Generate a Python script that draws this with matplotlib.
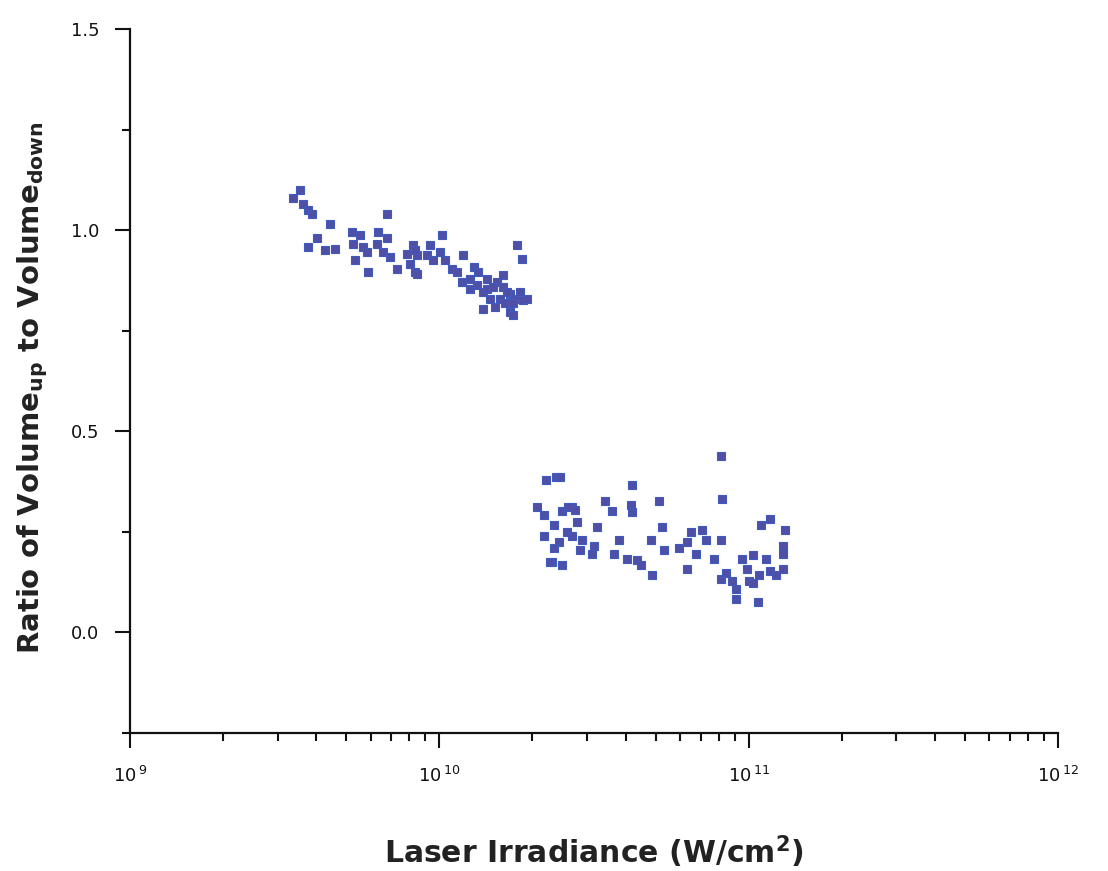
import numpy as np
import matplotlib
matplotlib.use("Agg")
import matplotlib.pyplot as plt
from matplotlib.ticker import LogLocator, MultipleLocator, FixedLocator

# ---- data: low-irradiance group (x in units of 1e9 W/cm^2) ----
x_low_e9 = [3.55, 3.37, 3.62, 3.76, 3.88, 6.78, 4.43, 4.03, 3.76, 4.27, 4.60,
            5.22, 5.54, 5.26, 5.66, 5.34, 5.84, 5.88, 6.34, 6.78, 6.29, 6.58,
            6.93, 7.30, 8.22, 7.87, 8.47, 8.04, 8.35, 10.2, 9.33, 9.13, 9.54,
            10.05, 10.4, 11.0, 11.9, 11.4, 11.8, 12.9, 12.6, 13.3, 14.3, 13.2,
            13.8, 15.4, 16.1, 14.6, 15.7, 16.9, 17.8, 18.7, 13.8, 16.9, 17.8,
            18.5, 19.2, 14.3, 16.1, 14.9, 16.5, 17.3, 18.2, 15.1, 12.6, 16.3,
            17.3, 8.35, 8.47]
y_low = [1.100, 1.080, 1.065, 1.050, 1.040, 1.040, 1.015, 0.980, 0.958, 0.950,
         0.953, 0.995, 0.988, 0.965, 0.958, 0.925, 0.945, 0.896, 0.995, 0.980,
         0.965, 0.945, 0.933, 0.903, 0.963, 0.940, 0.938, 0.915, 0.896, 0.988,
         0.963, 0.938, 0.925, 0.945, 0.925, 0.903, 0.938, 0.896, 0.871, 0.908,
         0.878, 0.896, 0.878, 0.863, 0.846, 0.871, 0.858, 0.828, 0.828, 0.841,
         0.828, 0.826, 0.803, 0.796, 0.963, 0.928, 0.828, 0.853, 0.888, 0.858,
         0.846, 0.820, 0.846, 0.808, 0.853, 0.820, 0.790, 0.950, 0.890]

# ---- data: high-irradiance group (x in units of 1e10 W/cm^2) ----
x_high_e10 = [2.39, 2.22, 4.21, 8.16, 8.22, 2.07, 2.18, 2.50, 2.69, 3.42, 3.62,
              4.18, 4.21, 5.14, 2.35, 2.18, 2.44, 2.35, 2.79, 2.58, 2.69, 2.90,
              2.84, 3.17, 3.12, 3.24, 3.82, 3.68, 2.32, 2.50, 4.05, 4.37, 4.50,
              4.88, 5.26, 4.85, 5.34, 5.97, 6.34, 6.53, 6.78, 6.34, 7.09, 7.30,
              7.74, 8.16, 8.16, 8.47, 8.86, 9.13, 9.13, 9.54, 9.84, 10.3, 10.05,
              10.7, 11.0, 11.7, 11.4, 10.8, 11.7, 12.3, 12.9, 13.1, 12.9, 12.9,
              10.3, 2.45, 2.60, 2.75, 2.28]
y_high = [0.386, 0.378, 0.366, 0.438, 0.331, 0.311, 0.291, 0.303, 0.311, 0.328,
          0.301, 0.318, 0.299, 0.328, 0.266, 0.241, 0.224, 0.211, 0.274, 0.249,
          0.241, 0.229, 0.206, 0.216, 0.194, 0.261, 0.229, 0.194, 0.174, 0.167,
          0.182, 0.179, 0.167, 0.142, 0.261, 0.231, 0.204, 0.211, 0.224, 0.249,
          0.194, 0.157, 0.254, 0.231, 0.182, 0.229, 0.132, 0.149, 0.129, 0.107,
          0.082, 0.182, 0.157, 0.192, 0.129, 0.075, 0.266, 0.281, 0.182, 0.142,
          0.154, 0.142, 0.157, 0.254, 0.216, 0.194, 0.124, 0.386, 0.311, 0.305,
          0.174]

x_vals = np.concatenate([np.array(x_low_e9) * 1e9, np.array(x_high_e10) * 1e10])
y_vals = np.concatenate([y_low, y_high])

y_ticks = [0.0, 0.5, 1.0, 1.5]
y_tick_labels = ["0.0", "0.5", "1.0", "1.5"]
x_ticks = [1e9, 1e10, 1e11, 1e12]
x_tick_labels = [r"$10^{\,9}$", r"$10^{\,10}$", r"$10^{\,11}$", r"$10^{\,12}$"]

fig = plt.figure(figsize=(11.08, 8.71), dpi=100)
ax = fig.add_axes([0.1173, 0.1584, 0.9549 - 0.1173, 0.9667 - 0.1584])

ax.plot(x_vals, y_vals, linestyle="none", marker="s", markersize=6.2,
        markerfacecolor="#4f4fa6", markeredgecolor="#3f5bbf",
        markeredgewidth=0.8)

ax.set_xscale("log")
ax.set_xlim(1e9, 1e12)
ax.set_ylim(-0.25, 1.5)

ax.xaxis.set_major_locator(FixedLocator(x_ticks))
ax.set_xticklabels(x_tick_labels)
ax.xaxis.set_minor_locator(LogLocator(base=10, subs=np.arange(2, 10)))
ax.xaxis.set_minor_formatter(plt.NullFormatter())
ax.yaxis.set_major_locator(FixedLocator(y_ticks))
ax.set_yticklabels(y_tick_labels)
ax.yaxis.set_minor_locator(MultipleLocator(0.25))

for s in ["top", "right"]:
    ax.spines[s].set_visible(False)
for s in ["left", "bottom"]:
    ax.spines[s].set_linewidth(1.6)
    ax.spines[s].set_color("#111111")

ax.tick_params(axis="both", which="major", direction="out", length=11,
               width=1.5, colors="#111111", labelsize=13, pad=13)
ax.tick_params(axis="both", which="minor", direction="out", length=6,
               width=1.5, colors="#111111")
ax.tick_params(axis="y", which="major", pad=11)

ax.set_xlabel(r"Laser Irradiance (W/cm$^{\mathbf{2}}$)", fontsize=21.5,
              fontweight="bold", labelpad=34, color="#222222")
ax.set_ylabel(r"Ratio of Volume$_{\mathbf{up}}$ to Volume$_{\mathbf{down}}$",
              fontsize=21, fontweight="bold", color="#222222")
ax.yaxis.set_label_coords(-0.086, 0.49)

fig.savefig("out.png", dpi=100, facecolor="white")
